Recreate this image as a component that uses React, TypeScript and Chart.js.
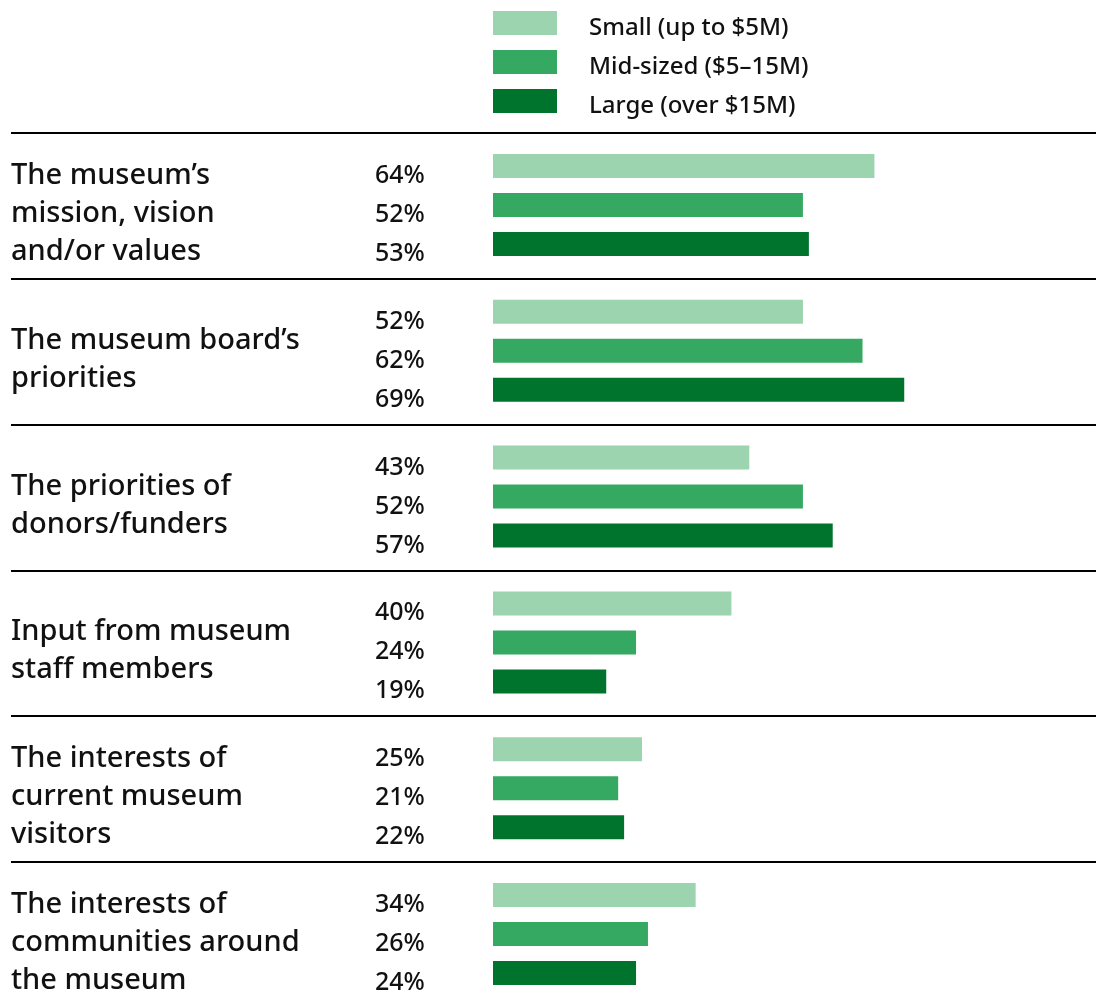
import React, { useEffect, useRef } from "react";
import { Chart, registerables } from "chart.js";

Chart.register(...registerables);

const categories: string[][] = [
  ["The museum’s", "mission, vision", "and/or values"],
  ["The museum board’s", "priorities"],
  ["The priorities of", "donors/funders"],
  ["Input from museum", "staff members"],
  ["The interests of", "current museum", "visitors"],
  ["The interests of", "communities around", "the museum"],
];
const seriesNames = ["Small (up to $5M)", "Mid-sized ($5–15M)", "Large (over $15M)"];
const smallValues = [64, 52, 43, 40, 25, 34];
const midValues = [52, 62, 52, 24, 21, 26];
const largeValues = [53, 69, 57, 19, 22, 24];
const seriesColors = ["#9BD4AE", "#35A862", "#00742C"];

const FONT = '"Noto Sans", "DejaVu Sans", sans-serif';
const TEXT = "#111111";

const overlay = {
  id: "overlay",
  afterDraw(chart: any) {
    const ctx = chart.ctx as CanvasRenderingContext2D;
    const area = chart.chartArea;
    const yScale = chart.scales.y;
    const n = categories.length;
    ctx.save();
    // legend
    ctx.font = `550 24px ${FONT}`;
    ctx.textBaseline = "alphabetic";
    ctx.textAlign = "left";
    for (let i = 0; i < seriesNames.length; i++) {
      const top = 11 + i * 39;
      ctx.fillStyle = seriesColors[i];
      ctx.fillRect(area.left, top, 64, 24);
      ctx.fillStyle = TEXT;
      ctx.fillText(seriesNames[i], area.left + 96, top + 24);
    }
    // separators
    ctx.strokeStyle = "#000";
    ctx.lineWidth = 2;
    for (let k = 0; k < n; k++) {
      const y =
        k === 0
          ? area.top
          : (yScale.getPixelForValue(k - 1) + yScale.getPixelForValue(k)) / 2;
      ctx.beginPath();
      ctx.moveTo(11, Math.round(y) + 1);
      ctx.lineTo(chart.width, Math.round(y) + 1);
      ctx.stroke();
    }
    // category labels
    ctx.font = `550 29px ${FONT}`;
    ctx.fillStyle = TEXT;
    for (let k = 0; k < n; k++) {
      const cy = yScale.getPixelForValue(k);
      const lines = categories[k];
      const lh = 38;
      for (let j = 0; j < lines.length; j++) {
        const y = cy + (j - (lines.length - 1) / 2) * lh + 17;
        ctx.fillText(lines[j], 11, y);
      }
    }
    // value labels
    ctx.font = `550 25px ${FONT}`;
    chart.data.datasets.forEach((ds: any, di: number) => {
      const meta = chart.getDatasetMeta(di);
      meta.data.forEach((bar: any, i: number) => {
        ctx.fillText(`${ds.data[i]}%`, 375, bar.y + 17);
      });
    });
    ctx.restore();
  },
};

export default function App() {
  const ref = useRef<HTMLCanvasElement | null>(null);
  useEffect(() => {
    document.body.style.margin = "0";
    const canvas = ref.current!;
    const chart = new Chart(canvas, {
      type: "bar",
      data: {
        labels: categories.map((c) => c.join(" ")),
        datasets: [
          { label: seriesNames[0], data: smallValues, backgroundColor: seriesColors[0] },
          { label: seriesNames[1], data: midValues, backgroundColor: seriesColors[1] },
          { label: seriesNames[2], data: largeValues, backgroundColor: seriesColors[2] },
        ],
      },
      options: {
        indexAxis: "y",
        responsive: false,
        animation: false,
        datasets: { bar: { categoryPercentage: 0.803, barPercentage: 0.615 } },
        layout: { padding: { left: 493, top: 132, right: 7, bottom: 0 } },
        scales: {
          x: { display: false, min: 0, max: 100 },
          y: { display: false },
        },
        plugins: { legend: { display: false }, tooltip: { enabled: false } },
      },
      plugins: [overlay],
    });
    return () => chart.destroy();
  }, []);
  return (
    <div style={{ width: 1096, height: 1007, background: "#fff" }}>
      <canvas ref={ref} width={1096} height={1007} />
    </div>
  );
}
